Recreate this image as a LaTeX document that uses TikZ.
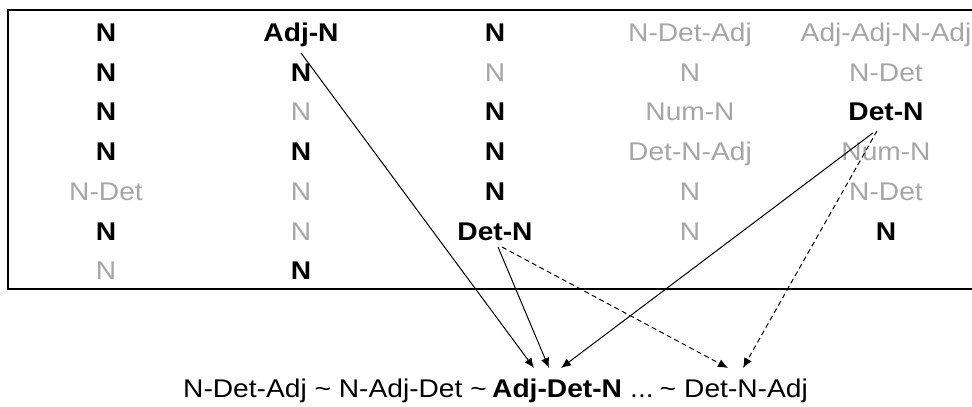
\documentclass[tikz,border=0pt]{standalone}
\usepackage{fontspec}
\setmainfont{Liberation Sans}[FakeStretch=1.1]
\usetikzlibrary{arrows.meta,calc}
\definecolor{lg}{RGB}{166,166,166}
\begin{document}
\begin{tikzpicture}[x=1pt,y=-1pt,
  cell/.style={font=\fontsize{25.6}{30}\selectfont, inner sep=0pt, anchor=base},
  bd/.style={cell, font=\fontsize{25.6}{30}\selectfont\bfseries},
  gr/.style={cell, text=lg},
  arr/.style={-{Latex[length=10pt,width=8.5pt]}, line width=1pt},
  darr/.style={arr, dash pattern=on 5pt off 3.5pt}]
\useasboundingbox (0,0) rectangle (972,407);
\draw[line width=1.5pt] (990,10) -- (8,10) -- (8,289) -- (990,289);
% row 1
\node[bd] (r1c1) at (106,41.5) {N};
\node[bd] (adjn) at (301,41.5) {Adj-N};
\node[bd] (r1c3) at (495,41.5) {N};
\node[gr] (r1c4) at (690,41.5) {N-Det-Adj};
\node[gr] (r1c5) at (886,41.5) {Adj-Adj-N-Adj};
% row 2
\node[bd] (r2c1) at (106,81.2) {N};
\node[bd] (r2c2) at (301,81.2) {N};
\node[gr] (r2c3) at (495,81.2) {N};
\node[gr] (r2c4) at (690,81.2) {N};
\node[gr] (r2c5) at (886,81.2) {N-Det};
% row 3
\node[bd] (r3c1) at (106,120.9) {N};
\node[gr] (r3c2) at (301,120.9) {N};
\node[bd] (r3c3) at (495,120.9) {N};
\node[gr] (r3c4) at (690,120.9) {Num-N};
\node[bd] (detn5) at (886,120.9) {Det-N};
% row 4
\node[bd] (r4c1) at (106,160.6) {N};
\node[bd] (r4c2) at (301,160.6) {N};
\node[bd] (r4c3) at (495,160.6) {N};
\node[gr] (r4c4) at (690,160.6) {Det-N-Adj};
\node[gr] (r4c5) at (886,160.6) {Num-N};
% row 5
\node[gr] (r5c1) at (106,200.3) {N-Det};
\node[gr] (r5c2) at (301,200.3) {N};
\node[bd] (r5c3) at (495,200.3) {N};
\node[gr] (r5c4) at (690,200.3) {N};
\node[gr] (r5c5) at (886,200.3) {N-Det};
% row 6
\node[bd] (r6c1) at (106,240) {N};
\node[gr] (r6c2) at (301,240) {N};
\node[bd] (detn3) at (495,240) {Det-N};
\node[gr] (r6c4) at (690,240) {N};
\node[bd] (r6c5) at (886,240) {N};
% row 7
\node[gr] (r7c1) at (106,279.7) {N};
\node[bd] (r7c2) at (301,279.7) {N};
% bottom line
\node[cell, anchor=base west] (b1) at (183,397) {N-Det-Adj \textasciitilde{} N-Adj-Det \textasciitilde};
\node[bd, anchor=base west] (b2) at (492,397) {Adj-Det-N};
\node[cell, anchor=base west] (b3) at (630,397) {...\hspace{6pt}\textasciitilde};
\node[cell, anchor=base west] (b4) at (684,397) {Det-N-Adj};
\coordinate (tA) at (534,368);
\coordinate (tB) at (549,368);
\coordinate (tC) at (561,368);
\coordinate (tD) at (728,368);
\coordinate (tE) at (743,368);
\draw[arr] ($(adjn.base)+(0,11.5)$) -- (tA);
\draw[arr] ($(detn3.base)+(3,7)$) -- (tB);
\draw[arr] ($(detn5.base)+(-13,12)$) -- (tC);
\draw[darr] ($(detn3.base)+(7,7)$) -- (tD);
\draw[darr] ($(detn5.base)+(-9,10)$) -- (tE);
\end{tikzpicture}
\end{document}
